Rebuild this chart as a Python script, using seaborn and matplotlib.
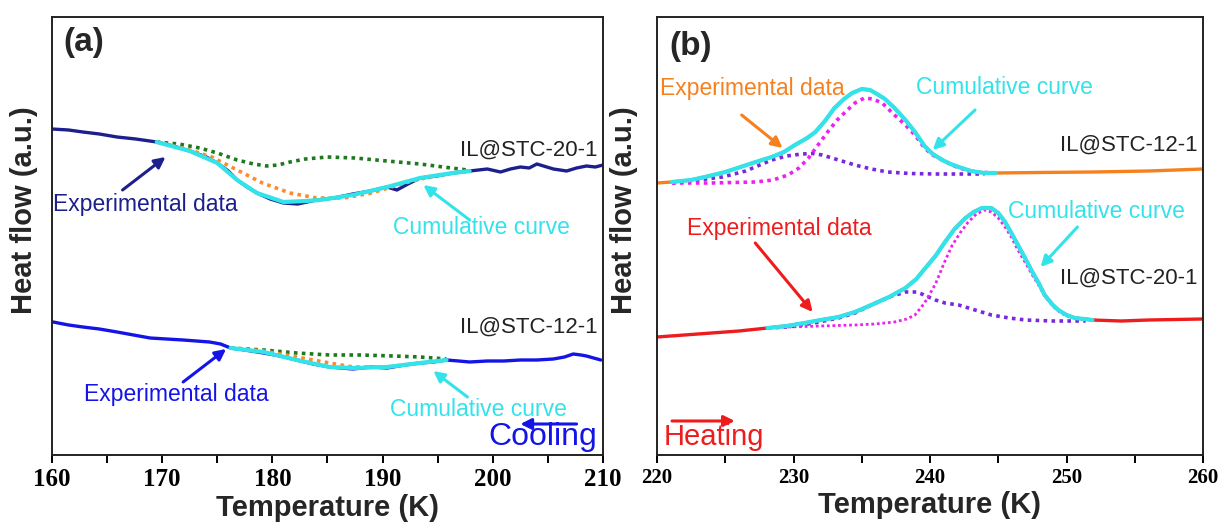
import numpy as np
import pandas as pd
import seaborn as sns
import matplotlib.pyplot as plt

# ---------------- panel (a): cooling ----------------
# IL@STC-20-1 (upper)
a20_exp_T = [160.0, 161.5, 162.8, 164.3, 165.9, 167.6, 169.5, 171.0, 172.5, 174.0, 175.0, 176.0, 176.8,
             177.7, 178.6, 179.8, 181.0, 182.3, 184.0, 185.6, 187.3, 188.9, 190.4, 191.3, 192.3, 193.4,
             194.9, 196.4, 197.9, 198.7, 199.5, 200.7, 201.6, 202.5, 203.3, 204.0, 205.5, 206.7, 207.6,
             208.5, 209.3, 210.0]
a20_exp_h = [326, 325, 323, 321, 318, 316, 313, 309, 304, 298, 292, 284, 275,
             268, 262, 256, 252, 251, 255, 257, 261, 264, 268, 265, 271, 277,
             279, 282, 284, 285, 286, 283, 286, 288, 287, 291, 286, 284, 287,
             289, 288, 290]
a20_fit_T = [169.5, 172.5, 175.0, 176.8, 178.6, 181.0, 183.0, 184.3, 187.3, 190.4, 193.4, 196.4, 197.9]
a20_fit_h = [313, 304, 292, 275, 262, 253, 254, 255, 260, 268, 277, 282, 284]
a20_pk1_T = [169.5, 171.5, 173.4, 175.0, 176.8, 178.3, 179.5, 180.5, 181.6, 183.0, 185.0, 187.5,
             190.4, 193.4, 195.5, 197.7]
a20_pk1_h = [313, 311, 307, 302, 295, 291, 289, 290, 293, 296, 298, 297, 294, 291, 288, 285]
a20_pk2_T = [169.5, 172.5, 174.5, 176.8, 179.1, 181.6, 184.0, 186.5, 189.0, 192.0, 195.0, 197.9]
a20_pk2_h = [313, 305, 298, 285, 272, 262, 257, 257, 262, 272, 280, 284]

# IL@STC-12-1 (lower)
a12_exp_T = [160.1, 161.5, 162.8, 164.3, 165.9, 167.4, 168.9, 170.4, 171.9, 173.1, 174.3, 175.3, 176.2,
             177.5, 179.2, 180.7, 182.2, 183.7, 185.2, 187.3, 189.0, 190.4, 192.0, 193.4, 194.6, 195.8,
             196.9, 197.9, 199.5, 201.0, 202.5, 204.0, 205.5, 206.5, 207.3, 208.0, 208.5, 209.8]
a12_exp_h = [133, 130, 128, 126, 123, 120, 117, 116, 115, 114, 113, 111, 107,
             105, 102, 99, 95, 91, 88, 86, 88, 87, 90, 92, 93, 95,
             94, 93, 94, 94, 95, 95, 96, 98, 101, 100, 99, 95]
a12_fit_T = [176.2, 179.2, 182.2, 185.2, 187.3, 190.4, 193.4, 195.8]
a12_fit_h = [107, 103, 95, 88, 87, 88, 92, 95]
a12_pk1_T = [176.2, 179.2, 182.2, 185.2, 188.0, 191.0, 193.4, 195.8]
a12_pk1_h = [107, 105, 102, 100, 100, 99, 98, 96]
a12_pk2_T = [176.2, 179.2, 182.2, 185.2, 187.3, 190.4, 193.4, 195.8]
a12_pk2_h = [107, 104, 98, 92, 88, 88, 92, 95]

# ---------------- panel (b): heating ----------------
# IL@STC-12-1 (upper)
b12_exp_T = [220.0, 221.1, 222.5, 223.5, 225.0, 225.9, 227.0, 228.4, 229.3, 230.1, 231.0, 231.6, 232.3,
             233.0, 233.7, 234.3, 235.0, 235.6, 236.0, 236.7, 237.4, 238.2, 238.9, 239.6, 240.2, 240.9,
             241.5, 242.1, 243.0, 244.0, 244.8, 248.0, 251.9, 256.0, 260.0]
b12_exp_h = [272, 273, 275, 278, 283, 287, 292, 298, 303, 310, 317, 323, 334,
             347, 356, 362, 366, 365, 362, 356, 347, 335, 323, 309, 301, 295,
             291, 288, 284, 282, 282, 282.5, 283, 284, 286]
b12_fit_T = [221.1, 222.5, 223.5, 225.0, 225.9, 227.0, 228.4, 229.3, 230.1, 231.0, 231.6, 232.3, 233.0,
             233.7, 234.3, 235.0, 235.6, 236.0, 236.7, 237.4, 238.2, 238.9, 239.6, 240.2, 240.9, 241.5,
             242.1, 243.0, 244.0, 244.8]
b12_fit_h = [273, 275, 278, 283, 287, 292, 298, 303, 310, 317, 323, 334, 347,
             356, 362, 366, 365, 362, 356, 347, 335, 323, 309, 301, 295, 291,
             288, 284, 282, 282]
b12_pk2_T = [221.1, 224.0, 227.2, 228.5, 229.6, 230.4, 231.1, 231.8, 232.5, 233.2, 233.8, 234.5, 235.2,
             235.8, 236.5, 237.4, 238.2, 238.9, 239.6, 240.2, 240.9, 242.1, 243.3, 244.8]
b12_pk2_h = [272, 272, 273, 275, 280, 287, 297, 310, 323, 335, 343, 352, 357,
             356, 352, 340, 330, 320, 307, 300, 295, 287, 283, 282]
b12_pk1_T = [221.1, 223.0, 224.8, 226.5, 228.4, 229.5, 230.6, 231.4, 232.1, 233.3, 234.5, 235.7, 236.9,
             238.5, 240.4, 242.5, 244.0]
b12_pk1_h = [272, 275, 278, 284, 295, 299, 301, 301.5, 300, 295, 290, 286, 283,
             281.5, 281, 281, 281]

# IL@STC-20-1 (lower)
b20_exp_T = [220.0, 222.0, 224.0, 226.0, 228.1, 229.5, 230.8, 232.0, 233.3, 234.5, 235.7, 237.0, 238.2,
             239.0, 239.6, 240.4, 241.1, 241.8, 242.6, 243.2, 243.8, 244.5, 245.0, 245.5, 246.0, 246.4,
             247.0, 247.5, 248.0, 248.4, 249.0, 249.4, 250.0, 250.6, 251.3, 251.9, 254.0, 256.0, 258.0,
             260.0]
b20_exp_h = [118, 120, 122, 124, 127, 129, 132, 135, 138, 143, 150, 158, 167,
             176, 186, 199, 213, 226, 237, 243, 247, 247, 242, 233, 221, 211,
             196, 183, 171, 160, 150, 145, 140, 137, 136, 135, 134, 135, 135.5,
             136]
b20_fit_T = b20_exp_T[4:36]
b20_fit_h = b20_exp_h[4:36]
b20_pk2_T = [229.6, 232.0, 234.5, 236.0, 237.4, 238.3, 238.9, 239.6, 240.4, 241.1, 241.6, 242.2, 242.8,
             243.4, 244.0, 244.5, 245.0, 245.5, 246.0, 246.4, 247.0, 247.5, 248.0, 248.4, 249.0, 249.4,
             250.0, 250.6, 251.9]
b20_pk2_h = [128, 129, 130, 131, 133, 136, 140, 152, 171, 194, 209, 222, 233,
             241, 245, 243, 237, 228, 217, 206, 192, 180, 169, 159, 149, 144,
             139, 137, 135]
b20_pk1_T = [228.1, 229.6, 231.5, 233.3, 234.5, 235.7, 237.0, 238.2, 239.0, 239.4, 240.4, 241.1, 242.1,
             243.3, 244.5, 245.8, 247.0, 249.0, 251.4]
b20_pk1_h = [127, 128, 132, 137, 142, 150, 158, 163, 163, 161, 155, 152, 150,
             145, 140, 137, 135, 134, 134]

# colours
navy = "#1c1f8c"
blue = "#1414e6"
cyan = "#33e3ea"
green = "#1d7a1d"
orange_dot = "#ff8a2a"
orange = "#f7801e"
red = "#ee1c1c"
magenta = "#ee22ee"
purple = "#7a28de"

sns.set_style("white")
plt.rcParams["font.family"] = ["Liberation Sans", "DejaVu Sans"]

fig = plt.figure(figsize=(12.21, 5.28), dpi=100)
ax_a = fig.add_axes([52 / 1221, 1 - 455 / 528, 551 / 1221, 438 / 528])
ax_b = fig.add_axes([657 / 1221, 1 - 455 / 528, 546 / 1221, 438 / 528])

dot = (0, (1, 1.2))
solid_lw = 2.4
fit_lw = 3.0
dot_lw = 2.6


def line(ax, T, h, color, lw, ls="-", z=2):
    sns.lineplot(x=T, y=h, ax=ax, color=color, lw=lw, linestyle=ls, zorder=z)


def arrow(ax, tail, head, color):
    ax.annotate("", xy=head, xytext=tail,
                arrowprops=dict(arrowstyle="-|>", color=color, lw=2.2, mutation_scale=16,
                                shrinkA=0, shrinkB=0))


# panel (a)
line(ax_a, a20_exp_T, a20_exp_h, navy, solid_lw)
line(ax_a, a20_pk1_T, a20_pk1_h, green, dot_lw, dot, 3)
line(ax_a, a20_pk2_T, a20_pk2_h, orange_dot, dot_lw, dot, 3)
line(ax_a, a20_fit_T, a20_fit_h, cyan, fit_lw, "-", 4)
line(ax_a, a12_exp_T, a12_exp_h, blue, solid_lw)
line(ax_a, a12_pk1_T, a12_pk1_h, green, dot_lw, dot, 3)
line(ax_a, a12_pk2_T, a12_pk2_h, orange_dot, dot_lw, dot, 3)
line(ax_a, a12_fit_T, a12_fit_h, cyan, fit_lw, "-", 4)

ax_a.text(161.0, 412, "(a)", fontsize=24, fontweight="bold", va="center")
ax_a.text(209.5, 305, "IL@STC-20-1", fontsize=16, color="#222222", ha="right", va="center")
ax_a.text(209.5, 128, "IL@STC-12-1", fontsize=16, color="#222222", ha="right", va="center")
ax_a.text(160.1, 250, "Experimental data", fontsize=16.5, color=navy, va="center")
arrow(ax_a, (166.4, 265), (170.3, 298), navy)
ax_a.text(199.0, 228, "Cumulative curve", fontsize=16.5, color=cyan, ha="center", va="center")
arrow(ax_a, (197.9, 235), (193.7, 270), cyan)
ax_a.text(162.9, 61, "Experimental data", fontsize=16.5, color=blue, va="center")
arrow(ax_a, (171.9, 73), (175.8, 106), blue)
ax_a.text(198.7, 46, "Cumulative curve", fontsize=16.5, color=cyan, ha="center", va="center")
arrow(ax_a, (197.7, 58), (194.6, 84), cyan)
ax_a.text(209.5, 18, "Cooling", fontsize=23, color=blue, ha="right", va="center")
arrow(ax_a, (207.6, 31), (202.5, 31), blue)

# panel (b)
line(ax_b, b12_exp_T, b12_exp_h, orange, solid_lw)
line(ax_b, b12_pk1_T, b12_pk1_h, purple, dot_lw, dot, 3)
line(ax_b, b12_pk2_T, b12_pk2_h, magenta, dot_lw, dot, 3)
line(ax_b, b12_fit_T, b12_fit_h, cyan, fit_lw, "-", 4)
line(ax_b, b20_exp_T, b20_exp_h, red, solid_lw)
line(ax_b, b20_pk1_T, b20_pk1_h, purple, dot_lw, dot, 3)
line(ax_b, b20_pk2_T, b20_pk2_h, magenta, 2.0, (0, (1, 1)), 3)
line(ax_b, b20_fit_T, b20_fit_h, cyan, fit_lw, "-", 4)

ax_b.text(220.9, 409, "(b)", fontsize=24, fontweight="bold", va="center")
ax_b.text(220.2, 367, "Experimental data", fontsize=16.5, color=orange, va="center")
arrow(ax_b, (226.2, 340), (229.2, 307), orange)
ax_b.text(239.0, 368, "Cumulative curve", fontsize=16.5, color=cyan, va="center")
arrow(ax_b, (243.3, 345), (240.2, 305), cyan)
ax_b.text(259.6, 310, "IL@STC-12-1", fontsize=16, color="#222222", ha="right", va="center")
ax_b.text(222.2, 227, "Experimental data", fontsize=16.5, color=red, va="center")
arrow(ax_b, (227.2, 212), (231.4, 143), red)
ax_b.text(245.7, 243, "Cumulative curve", fontsize=16.5, color=cyan, va="center")
arrow(ax_b, (250.8, 228), (248.1, 188), cyan)
ax_b.text(259.6, 177, "IL@STC-20-1", fontsize=16, color="#222222", ha="right", va="center")
ax_b.text(220.45, 18, "Heating", fontsize=21, color=red, va="center")
arrow(ax_b, (221.1, 34), (225.7, 34), red)

# axes styling
for ax, lim, step, tsize, lab_x in [(ax_a, (160, 210), 10, 18, -0.026),
                                     (ax_b, (220, 260), 10, 15, -0.034)]:
    ax.set_xlim(*lim)
    ax.set_ylim(0, 438)
    ax.set_xticks(np.arange(lim[0], lim[1] + 1, step))
    ax.set_xticks(np.arange(lim[0] + 5, lim[1], step), minor=True)
    ax.set_yticks([])
    ax.tick_params(axis="x", which="both", direction="out", length=6, width=1.4,
                   bottom=True, top=False, colors="black")
    for lab in ax.get_xticklabels():
        lab.set_fontfamily("Liberation Serif")
        lab.set_fontweight("bold")
        lab.set_fontsize(tsize)
    for s in ax.spines.values():
        s.set_color("#222222")
        s.set_linewidth(1.4)
    ax.set_xlabel("Temperature (K)", fontsize=21, fontweight="bold", labelpad=2)
    ax.set_ylabel("Heat flow (a.u.)", fontsize=21, fontweight="bold")
    ax.yaxis.set_label_coords(lab_x, 0.56)

fig.savefig("out.png", dpi=100)
